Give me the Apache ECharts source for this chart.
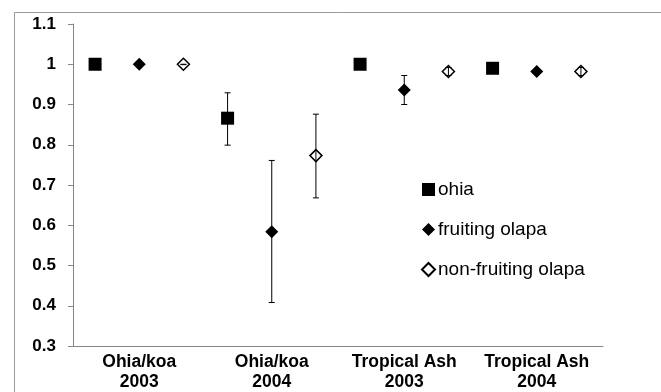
<!DOCTYPE html>
<html>
<head>
<meta charset="utf-8">
<script src="https://cdn.jsdelivr.net/npm/echarts@6/dist/echarts.min.js"></script>
<style>
html,body{margin:0;padding:0;background:#fff;}
#chart{width:661px;height:392px;}
</style>
</head>
<body>
<div id="chart"></div>
<script>
// Groups (site/year) and per-series values
var groups = ['Ohia/koa\n2003', 'Ohia/koa\n2004', 'Tropical Ash\n2003', 'Tropical Ash\n2004'];
var seriesNames = ['ohia', 'fruiting olapa', 'non-fruiting olapa'];

var ohia      = [1.0, 0.866, 1.0, 0.99];
var ohiaLow   = [null, 0.799, null, null];
var ohiaHigh  = [null, 0.929, null, null];

var fruiting     = [1.0, 0.584, 0.936, 0.982];
var fruitingLow  = [null, 0.408, 0.900, 0.976];
var fruitingHigh = [null, 0.761, 0.972, 0.988];

var nonFruiting     = [1.0, 0.773, 0.982, 0.982];
var nonFruitingLow  = [0.999, 0.668, 0.972, 0.972];
var nonFruitingHigh = [1.0, 0.876, 0.992, 0.992];

var yTicks = [0.3, 0.4, 0.5, 0.6, 0.7, 0.8, 0.9, 1.0, 1.1];

// 12 category slots: 3 per group, label on the middle slot
var categories = [];
groups.forEach(function (g) { categories.push(''); categories.push(g); categories.push(''); });

function pts(vals, offset) {
  return vals.map(function (v, i) { return [i * 3 + offset, v]; });
}
function errs(lows, highs, offset) {
  var out = [];
  lows.forEach(function (l, i) {
    if (l != null) out.push([i * 3 + offset, l, highs[i]]);
  });
  return out;
}
var errData = [].concat(errs(ohiaLow, ohiaHigh, 0), errs(fruitingLow, fruitingHigh, 1), errs(nonFruitingLow, nonFruitingHigh, 2));

var chart = echarts.init(document.getElementById('chart'));
chart.setOption({
  animation: false,
  backgroundColor: '#fff',
  graphic: [{
    type: 'rect', left: 12, top: 10, shape: { width: 700, height: 500 },
    style: { fill: 'none', stroke: '#999', lineWidth: 1 }, z: -1
  }],
  grid: { left: 73, top: 24, right: 58, bottom: 46 },
  legend: {
    orient: 'vertical', left: 421, top: 180, padding: 0,
    itemWidth: 13, itemHeight: 13, itemGap: 21,
    textStyle: { fontFamily: 'Liberation Sans, Arial', fontSize: 19, color: '#000', padding: [0, 0, 0, -2] },
    data: [
      { name: seriesNames[0], icon: 'rect' },
      { name: seriesNames[1], icon: 'diamond' },
      { name: seriesNames[2], icon: 'diamond' }
    ]
  },
  xAxis: {
    type: 'category', data: categories, boundaryGap: true,
    axisLine: { lineStyle: { color: '#868686', width: 1 } },
    axisTick: { interval: 0, length: 4, lineStyle: { color: '#868686' } },
    axisLabel: {
      interval: 0, margin: 6, color: '#000',
      fontFamily: 'Liberation Sans, Arial', fontWeight: 'bold', fontSize: 17.5, lineHeight: 20
    },
    splitLine: { show: false }
  },
  yAxis: {
    type: 'value', min: yTicks[0], max: yTicks[yTicks.length - 1], interval: 0.1,
    axisLine: { show: true, lineStyle: { color: '#868686', width: 1 } },
    axisTick: { show: true, length: 5, lineStyle: { color: '#868686' } },
    splitLine: { show: false },
    axisLabel: {
      margin: 17, color: '#000',
      fontFamily: 'Liberation Sans, Arial', fontWeight: 'bold', fontSize: 17,
      formatter: function (v) { return String(+v.toFixed(1)); }
    }
  },
  series: [
    { name: seriesNames[0], type: 'scatter', symbol: 'rect', symbolSize: 13,
      itemStyle: { color: '#000', opacity: 1 }, data: pts(ohia, 0), z: 2 },
    { name: seriesNames[1], type: 'scatter', symbol: 'diamond', symbolSize: 13,
      itemStyle: { color: '#000', opacity: 1 }, data: pts(fruiting, 1), z: 2 },
    { name: seriesNames[2], type: 'scatter', symbol: 'diamond', symbolSize: 12,
      itemStyle: { color: '#fff', borderColor: '#000', borderWidth: 1.5, opacity: 1 }, data: pts(nonFruiting, 2), z: 2 },
    { name: 'err', type: 'custom', z: 5, silent: true,
      data: errData,
      renderItem: function (params, api) {
        var x = api.value(0);
        var lo = api.coord([x, api.value(1)]);
        var hi = api.coord([x, api.value(2)]);
        var w = 3;
        var st = { stroke: '#000', lineWidth: 1, fill: null };
        return { type: 'group', children: [
          { type: 'line', shape: { x1: lo[0], y1: lo[1], x2: hi[0], y2: hi[1] }, style: st },
          { type: 'line', shape: { x1: lo[0] - w, y1: lo[1], x2: lo[0] + w, y2: lo[1] }, style: st },
          { type: 'line', shape: { x1: hi[0] - w, y1: hi[1], x2: hi[0] + w, y2: hi[1] }, style: st }
        ]};
      }
    }
  ]
});
</script>
</body>
</html>
